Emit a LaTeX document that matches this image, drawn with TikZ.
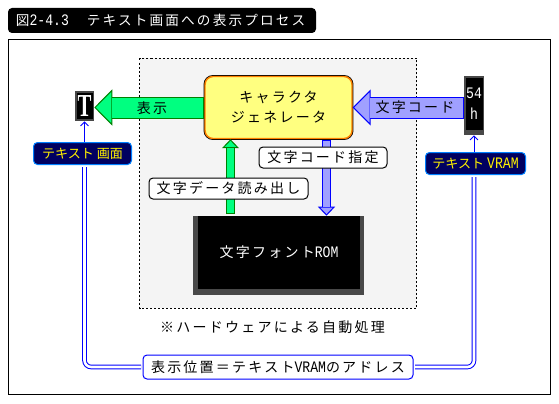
\documentclass[tikz,border=0pt]{standalone}
\usepackage{fontspec}
\usepackage{xcolor}
\usetikzlibrary{arrows.meta,calc}
\setmainfont[LetterSpace=16]{Noto Sans CJK JP}
\newfontfamily\jptight{Noto Sans CJK JP}
\newfontfamily\latn{Liberation Mono}
\newfontfamily\serifb[Scale=1]{Liberation Serif Bold}
\def\px{0.75pt}
\newcommand{\lat}[1]{\mbox{\scalebox{.82}[1]{\latn\fontsize{12}{12}\selectfont #1}}}
\definecolor{panelgray}{HTML}{F4F4F4}
\definecolor{arrowgreen}{HTML}{00FF80}
\definecolor{edgegreen}{HTML}{008000}
\definecolor{arrowblue}{HTML}{A0A0FF}
\definecolor{genyellow}{HTML}{FFFF80}
\definecolor{genorange}{HTML}{FF8000}
\definecolor{pillnavy}{HTML}{000060}
\definecolor{pilledge}{HTML}{0080FF}
\definecolor{bezelgray}{HTML}{484848}
\tikzset{
  every node/.style={font=\fontsize{10.5}{15}\selectfont, inner sep=0pt, align=center},
  titlebar/.style={
    rectangle, rounded corners=3pt, fill=black, text=white, align=left,
    font=\fontsize{10.2}{12}\selectfont,
    text width=292*\px, inner xsep=8*\px, minimum height=25*\px
  },
  frame/.style={draw=black, line width=1*\px},
  panel/.style={draw=black, fill=panelgray, line width=1*\px, dash pattern=on 1.5pt off 1.5pt},
  genbox/.style={
    rectangle, rounded corners=6pt, fill=genyellow, draw=genorange, line width=1.1pt,
    preaction={draw=black, line width=2.2pt}, minimum width=147*\px, minimum height=62*\px
  },
  bezel/.style={rectangle, fill=bezelgray},
  blackbox/.style={rectangle, fill=black, text=white},
  pill/.style={
    rectangle, rounded corners=3pt, fill=pillnavy, draw=pilledge, line width=1*\px,
    text=yellow, font=\jptight\fontsize{9.8}{12}\selectfont
  },
  taglabel/.style={
    rectangle, rounded corners=3pt, fill=white, draw=black, line width=1*\px
  },
  addrlabel/.style={taglabel, draw=blue},
  bigarrow/.style 2 args={
    -{Triangle[length=13.5pt,width=27pt,fill=#1,color=#2,line width=0.75pt]},
    draw=#2, line width=16.5pt,
    postaction={draw=#1, -, line width=15pt, shorten <=0.75pt, shorten >=13pt}
  },
  smallarrow/.style 2 args={
    -{Triangle[length=6.75pt,width=12.75pt,fill=#1,color=#2,line width=0.75pt]},
    draw=#2, line width=6.75pt,
    postaction={draw=#1, -, line width=5.25pt, shorten <=0.75pt, shorten >=6.25pt}
  },
  thinarrow/.style={-{Straight Barb[length=3pt,width=6pt]}, draw=blue, line width=0.75pt},
  busline/.style={draw=blue, line width=1*\px, double=white, double distance=2.6*\px, rounded corners=5pt},
}
\begin{document}
\begin{tikzpicture}[x=0.75pt, y=-0.75pt]
  \useasboundingbox (0,0) rectangle (559,403);
  \node (title) [titlebar] at (162,20.5) {\mbox{図\lat{2-4.3}\hspace{13.5pt}テキスト画面への表示プロセス}};
  \draw[frame] (8.5,39.5) rectangle (550,394);
  \draw[panel] (139.5,58.5) rectangle (416.5,308);

  \node (gen) [genbox] at (278.5,107.5) {キャラクタ\\ジェネレータ};
  \node (tbezel) [bezel, minimum width=19*\px, minimum height=30*\px] at (84.5,106) {};
  \node (tbox) [blackbox, minimum width=16*\px, minimum height=26*\px] at (84.5,106)
    {\serifb\fontsize{24}{24}\selectfont\scalebox{.65}[1]{T}};
  \node (vbezel) [bezel, minimum width=20*\px, minimum height=59*\px] at (474,105.5) {};
  \node (vbox) [blackbox, minimum width=17*\px, minimum height=52*\px] at (474,104)
    {\lat{54}\\[1pt]\lat{h}};
  \node (rombezel) [bezel, minimum width=171*\px, minimum height=79*\px] at (278.5,255.5) {};
  \node (rom) [blackbox, minimum width=162*\px, minimum height=73*\px] at (279,252.5)
    {文字フォント\lat{ROM}};

  \node (txtpill) [pill, minimum width=98*\px, minimum height=22*\px] at (82.5,153.5) {テキスト 画面};
  \node (vrampill) [pill, minimum width=100*\px, minimum height=22*\px] at (475.5,163.5) {テキスト \lat{VRAM}};
  \node (addr) [addrlabel, minimum width=270*\px, minimum height=24*\px] at (278,367)
    {表示位置＝テキスト\lat{VRAM}のアドレス};
  \node (note) at (272.5,327) {※ハードウェアによる自動処理};

  \coordinate (upfoot) at (230.5,214);
  \coordinate (downhead) at (326.5,140);
  \draw[bigarrow={arrowgreen}{edgegreen}] (gen.west) -- (tbezel.east |- gen.west);
  \draw[bigarrow={arrowblue}{blue}] (vbezel.west |- gen) -- (gen.east);
  \draw[smallarrow={arrowgreen}{edgegreen}] (upfoot) -- (upfoot |- gen.south);
  \draw[smallarrow={arrowblue}{blue}] (downhead) -- (downhead |- rombezel.north);

  \node (showtag) at (152,108) {表示};
  \node (codetag) at (415,107) {文字コード};
  \node (codespec) [taglabel, minimum width=128*\px, minimum height=21*\px] at (323,157.5) {文字コード指定};
  \node (readtag) [taglabel, minimum width=159*\px, minimum height=21*\px] at (228.5,188.5) {文字データ読み出し};

  \draw[thinarrow] (tbezel.south |- txtpill.north) -- (tbezel.south);
  \draw[thinarrow] (vbezel.south |- vrampill.north) -- (vbezel.south);
  \draw[busline, shorten <=2*\px, shorten >=1.5*\px] (tbezel.south |- txtpill.south) |- (addr.west);
  \draw[busline, shorten <=2*\px, shorten >=1.5*\px] (vbezel.south |- vrampill.south) |- (addr.east);
\end{tikzpicture}
\end{document}
